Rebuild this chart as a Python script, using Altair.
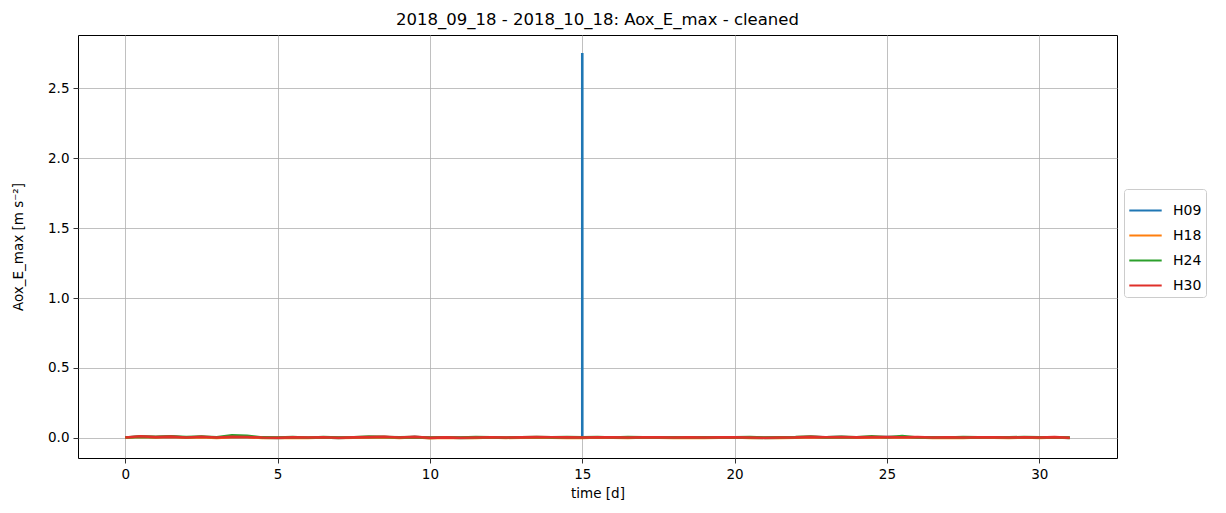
import altair as alt
import pandas as pd

# ---- data (values in m s^-2) ----
days = [i * 0.5 for i in range(63)]  # 0 .. 31 days

h30 = [0.003, 0.012, 0.006, 0.010, 0.004, 0.009, 0.003, 0.008, 0.007, 0.003,
       0.002, 0.004, 0.003, 0.005, 0.002, 0.004, 0.006, 0.009, 0.003, 0.008,
       0.002, 0.004, 0.002, 0.003, 0.005, 0.003, 0.004, 0.006, 0.005, 0.004,
       0.003, 0.005, 0.004, 0.003, 0.005, 0.004, 0.003, 0.004, 0.003, 0.004,
       0.005, 0.003, 0.002, 0.003, 0.004, 0.008, 0.005, 0.007, 0.004, 0.006,
       0.007, 0.005, 0.006, 0.003, 0.004, 0.003, 0.005, 0.004, 0.003, 0.005,
       0.003, 0.006, 0.002]
h24 = [0.004, 0.010, 0.008, 0.012, 0.006, 0.011, 0.005, 0.020, 0.016, 0.004,
       0.003, 0.006, 0.002, 0.006, 0.003, 0.005, 0.010, 0.007, 0.004, 0.006,
       0.003, 0.005, 0.003, 0.006, 0.004, 0.002, 0.005, 0.007, 0.004, 0.006,
       0.004, 0.007, 0.003, 0.006, 0.004, 0.003, 0.005, 0.003, 0.004, 0.003,
       0.004, 0.006, 0.003, 0.004, 0.006, 0.011, 0.004, 0.008, 0.005, 0.012,
       0.005, 0.013, 0.004, 0.005, 0.003, 0.006, 0.004, 0.005, 0.004, 0.007,
       0.004, 0.005, 0.003]
h18 = [0.002, 0.008, 0.004, 0.007, 0.002, 0.006, 0.000, 0.006, 0.005, 0.001,
       0.000, 0.002, 0.001, 0.003, 0.000, 0.002, 0.004, 0.006, 0.001, 0.005,
       -0.001, 0.002, 0.000, 0.001, 0.003, 0.001, 0.002, 0.004, 0.002, 0.001,
       0.001, 0.003, 0.002, 0.001, 0.003, 0.002, 0.000, 0.002, 0.001, 0.002,
       0.003, 0.001, 0.000, 0.001, 0.002, 0.005, 0.003, 0.005, 0.002, 0.004,
       0.005, 0.003, 0.004, 0.001, 0.002, 0.000, 0.003, 0.002, 0.000, 0.003,
       0.001, 0.004, 0.000]
# H09 has a single spike at day 15 (three samples at the same time)
h09_days = days[:30] + [15.0, 15.0, 15.0] + days[31:]
h09 = [0.003, 0.009, 0.005, 0.008, 0.003, 0.007, 0.002, 0.007, 0.006, 0.002,
       0.001, 0.003, 0.002, 0.004, 0.001, 0.003, 0.005, 0.007, 0.002, 0.006,
       0.001, 0.003, 0.001, 0.002, 0.004, 0.002, 0.003, 0.005, 0.004, 0.003,
       0.002, 2.750, 0.002,
       0.004, 0.003, 0.002, 0.004, 0.003, 0.002, 0.003, 0.002, 0.003,
       0.004, 0.002, 0.001, 0.002, 0.003, 0.007, 0.004, 0.006, 0.003, 0.005,
       0.006, 0.004, 0.005, 0.002, 0.003, 0.002, 0.004, 0.003, 0.002, 0.004,
       0.002, 0.005, 0.001]

series_names = ["H09", "H18", "H24", "H30"]
series_colors = ["#1f77b4", "#ff7f0e", "#2ca02c", "#e0302a"]

rows = []
for name, ds, vals in [("H09", h09_days, h09), ("H18", days, h18),
                       ("H24", days, h24), ("H30", days, h30)]:
    for i, (d, v) in enumerate(zip(ds, vals)):
        rows.append({"t": d, "v": v, "s": name, "i": i})
df = pd.DataFrame(rows)

FONT = "DejaVu Sans"

chart = alt.Chart(df).mark_line(strokeWidth=2.6, clip=True).encode(
    x=alt.X("t:Q", title="time [d]",
            scale=alt.Scale(domain=[-1.55, 32.55], nice=False, zero=False),
            axis=alt.Axis(values=[0, 5, 10, 15, 20, 25, 30], format="d")),
    y=alt.Y("v:Q", title="Aox_E_max [m s⁻²]",
            scale=alt.Scale(domain=[-0.143, 2.879], nice=False, zero=False),
            axis=alt.Axis(values=[0, 0.5, 1.0, 1.5, 2.0, 2.5], format=".1f")),
    color=alt.Color("s:N", title=None,
                    scale=alt.Scale(domain=series_names, range=series_colors),
                    legend=alt.Legend(orient="none", legendX=1046, legendY=154,
                                      symbolType="stroke", symbolSize=1050,
                                      symbolStrokeWidth=2, labelFontSize=14,
                                      labelFont=FONT, labelColor="#000000",
                                      rowPadding=-8, padding=4, labelOffset=10,
                                      strokeColor="#cccccc", cornerRadius=3,
                                      fillColor="white")),
    order=alt.Order("i:Q"),
).properties(
    width=1039, height=423,
    title=alt.TitleParams("2018_09_18 - 2018_10_18: Aox_E_max - cleaned",
                          font=FONT, fontSize=16.5, fontWeight="normal",
                          color="#000000", offset=7),
    autosize=alt.AutoSizeParams(type="none"),
    padding={"left": 70, "top": 27, "right": 100, "bottom": 47},
).configure_view(
    stroke="#000000", strokeWidth=1
).configure_axis(
    grid=True, gridColor="#b0b0b0", gridWidth=0.8,
    domain=False, tickColor="#000000", tickSize=5, tickWidth=0.8,
    labelFont=FONT, labelFontSize=13.5, labelColor="#000000", labelPadding=4,
    titleFont=FONT, titleFontSize=13.5, titleFontWeight="normal",
    titleColor="#000000",
).configure_axisX(titlePadding=6).configure_axisY(titlePadding=22)

chart.save("out.html", embed_options={"renderer": "svg", "actions": False})
